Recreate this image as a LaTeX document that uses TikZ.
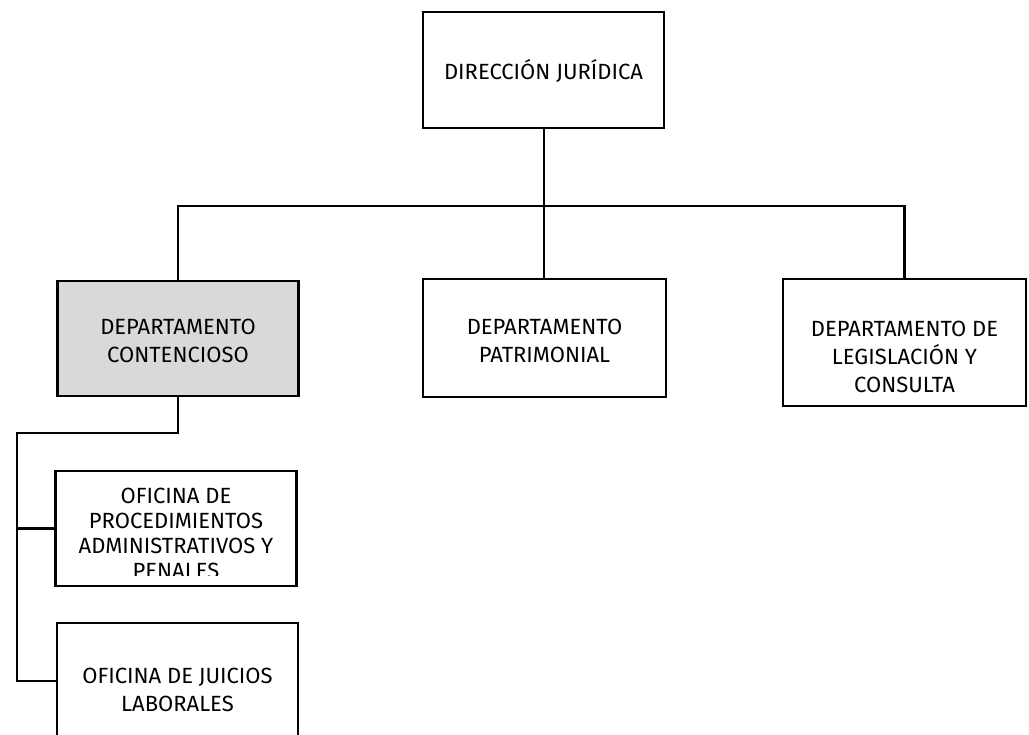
\documentclass[tikz,border=0pt]{standalone}
\usepackage{fontspec}
\setmainfont{Fira Sans}
\begin{document}
\begin{tikzpicture}[x=1pt,y=-1pt,
  box/.style={draw=black, line width=2.8pt, rectangle, inner sep=0pt},
  txt/.style={align=center, inner sep=0pt, font=\fontsize{22}{28}\selectfont},
  link/.style={draw=black, line width=2.8pt}]
\useasboundingbox (0,0) rectangle (1029,735);
\clip (0,0) rectangle (1029,735);

% boxes
\node[box, minimum width=241pt, minimum height=116pt] (dj) at (543.5,70) {};
\node[box, fill=black!15, minimum width=241pt, minimum height=115pt] (dc) at (178,338.5) {};
\node[box, minimum width=243pt, minimum height=118pt] (dp) at (544.5,338) {};
\node[box, minimum width=243pt, minimum height=127pt] (dl) at (904.5,342.5) {};
\node[box, minimum width=241pt, minimum height=115pt] (op) at (176,528.5) {};
\node[box, minimum width=241pt, minimum height=132pt] (oj) at (177.5,689) {};

% texts
\node[txt] (djt) at (543.5,71) {DIRECCIÓN JURÍDICA};
\node[txt] (dct) at (178,341) {DEPARTAMENTO\\CONTENCIOSO};
\node[txt] (dpt) at (544.5,341) {DEPARTAMENTO\\PATRIMONIAL};
\node[txt] (dlt) at (904.5,357) {DEPARTAMENTO DE\\LEGISLACIÓN Y\\CONSULTA};
\begin{scope}
  \clip ([yshift=-1.4pt]op.north west) rectangle ([yshift=12pt]op.south east);
  \node[txt, font=\fontsize{22}{25}\selectfont] (opt) at (176,533)
    {OFICINA DE\\PROCEDIMIENTOS\\ADMINISTRATIVOS Y\\PENALES};
\end{scope}
\node[txt] (ojt) at (177.5,690) {OFICINA DE JUICIOS\\LABORALES};

% connectors
\coordinate (bus) at (544,206);
\coordinate (spine) at (17,433);
\coordinate (ojb) at (17,681);
\draw[link] (dj.south -| bus) -- (dp.north -| bus);
\draw[link] (dc.north) -- (dc.north |- bus) -- (dl.north |- bus) -- (dl.north);
\draw[link] (dc.south) |- (spine) -- (ojb) -- (ojb -| oj.west);
\draw[link] (spine |- op.west) -- (op.west);
\end{tikzpicture}
\end{document}
